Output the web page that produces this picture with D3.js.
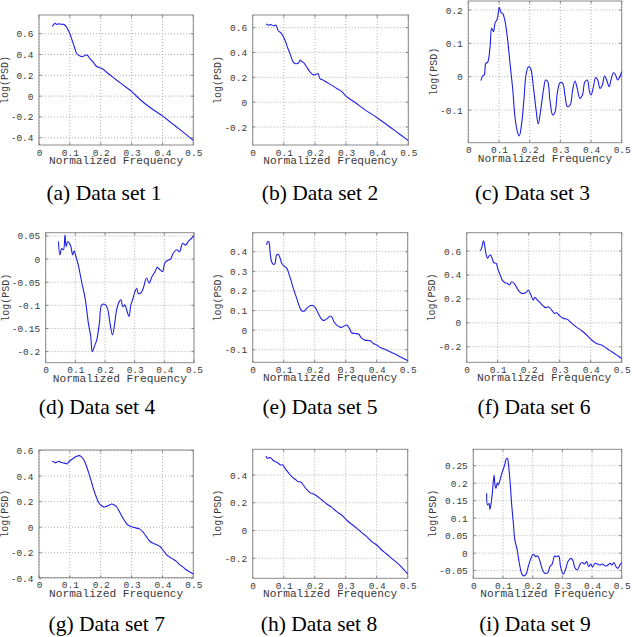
<!DOCTYPE html>
<html><head><meta charset="utf-8">
<script src="https://cdn.jsdelivr.net/npm/d3@7"></script>
<style>body{margin:0;background:#fff}</style>
</head><body>
<svg id="c" width="632" height="637"></svg>
<script>
const captions = ["(a) Data set 1","(b) Data set 2","(c) Data set 3","(d) Data set 4","(e) Data set 5","(f) Data set 6","(g) Data set 7","(h) Data set 8","(i) Data set 9"];
const xLabel = "Normalized Frequency";
const yLabel = "log(PSD)";
const xTicks = [0,0.1,0.2,0.3,0.4,0.5];

const freq1 = [0.043,0.048,0.052,0.058,0.065,0.072,0.08,0.088,0.095,0.1,0.108,0.115,0.122,0.13,0.138,0.145,0.152,0.158,0.165,0.175,0.185,0.195,0.205,0.215,0.225,0.24,0.26,0.28,0.3,0.33,0.36,0.4,0.43,0.46,0.5];
const psd1 = [0.67,0.69,0.70,0.69,0.695,0.69,0.69,0.67,0.63,0.60,0.53,0.47,0.41,0.39,0.38,0.385,0.395,0.39,0.36,0.33,0.29,0.275,0.265,0.24,0.215,0.18,0.135,0.09,0.045,-0.04,-0.11,-0.19,-0.26,-0.33,-0.425];
const yLim1 = [-0.47,0.78];
const yTicks1 = [-0.4,-0.2,0,0.2,0.4,0.6];

const freq2 = [0.043,0.05,0.058,0.066,0.075,0.082,0.09,0.098,0.105,0.112,0.12,0.13,0.138,0.147,0.152,0.158,0.163,0.173,0.184,0.195,0.205,0.21,0.216,0.228,0.238,0.255,0.27,0.286,0.302,0.33,0.36,0.4,0.43,0.46,0.5];
const psd2 = [0.63,0.62,0.625,0.615,0.62,0.575,0.56,0.53,0.49,0.44,0.39,0.325,0.31,0.315,0.34,0.325,0.32,0.285,0.245,0.22,0.225,0.23,0.19,0.175,0.16,0.135,0.11,0.085,0.045,-0.005,-0.06,-0.125,-0.18,-0.235,-0.31];
const yLim2 = [-0.345,0.702];
const yTicks2 = [-0.2,0,0.2,0.4,0.6];

const freq3 = [0.041,0.047,0.052,0.057,0.063,0.071,0.076,0.082,0.087,0.095,0.101,0.107,0.112,0.12,0.127,0.136,0.145,0.152,0.16,0.166,0.174,0.182,0.188,0.196,0.203,0.212,0.221,0.228,0.236,0.245,0.252,0.259,0.266,0.275,0.283,0.29,0.299,0.308,0.315,0.323,0.332,0.34,0.348,0.355,0.364,0.372,0.38,0.388,0.395,0.4,0.408,0.415,0.422,0.429,0.437,0.444,0.451,0.459,0.465,0.473,0.48,0.487,0.495,0.5];
const psd3 = [-0.012,0.002,0.005,0.04,0.043,0.09,0.145,0.135,0.16,0.175,0.208,0.192,0.19,0.165,0.12,0.04,-0.04,-0.12,-0.165,-0.178,-0.14,-0.06,0.005,0.03,0.025,-0.03,-0.1,-0.142,-0.1,-0.04,-0.01,-0.015,-0.07,-0.115,-0.105,-0.05,-0.018,-0.02,-0.055,-0.09,-0.085,-0.04,-0.013,-0.035,-0.065,-0.055,-0.015,-0.01,-0.045,-0.055,-0.03,-0.003,-0.01,-0.035,-0.025,0.002,-0.01,-0.03,-0.01,0.012,0.005,-0.01,0.002,0.015];
const yLim3 = [-0.198,0.227];
const yTicks3 = [-0.1,0,0.1,0.2];

const freq4 = [0.043,0.048,0.054,0.06,0.065,0.069,0.074,0.08,0.085,0.091,0.096,0.102,0.11,0.121,0.133,0.144,0.152,0.157,0.164,0.172,0.181,0.189,0.2,0.208,0.217,0.225,0.232,0.239,0.248,0.254,0.26,0.267,0.273,0.281,0.287,0.293,0.301,0.307,0.312,0.32,0.329,0.34,0.349,0.358,0.369,0.376,0.385,0.394,0.402,0.414,0.421,0.43,0.442,0.451,0.462,0.471,0.481,0.492,0.5];
const psd4 = [0.038,0.009,0.023,0.02,0.052,0.027,0.038,0.034,0.027,0.009,0.018,0.005,-0.013,-0.049,-0.085,-0.139,-0.168,-0.2,-0.189,-0.175,-0.139,-0.099,-0.098,-0.106,-0.139,-0.164,-0.142,-0.11,-0.092,-0.088,-0.103,-0.099,-0.11,-0.124,-0.099,-0.088,-0.07,-0.063,-0.074,-0.074,-0.063,-0.041,-0.052,-0.038,-0.027,-0.018,-0.023,-0.027,-0.008,-0.002,0.0,0.0125,0.02,0.016,0.034,0.03,0.038,0.045,0.05];
const yLim4 = [-0.224,0.057];
const yTicks4 = [-0.2,-0.15,-0.1,-0.05,0,0.05];

const freq5 = [0.045,0.048,0.052,0.056,0.061,0.067,0.072,0.077,0.083,0.088,0.094,0.101,0.11,0.12,0.131,0.142,0.151,0.158,0.166,0.174,0.185,0.194,0.201,0.209,0.217,0.226,0.233,0.241,0.25,0.256,0.262,0.271,0.28,0.287,0.295,0.303,0.312,0.319,0.33,0.341,0.352,0.362,0.379,0.389,0.4,0.411,0.427,0.443,0.459,0.475,0.491,0.5];
const psd5 = [0.434,0.451,0.451,0.4,0.349,0.335,0.34,0.383,0.386,0.369,0.34,0.327,0.315,0.272,0.213,0.162,0.119,0.099,0.097,0.111,0.124,0.126,0.116,0.094,0.068,0.051,0.051,0.06,0.072,0.065,0.043,0.026,0.017,0.014,0.021,0.026,0.009,-0.013,-0.017,-0.02,-0.042,-0.051,-0.054,-0.068,-0.076,-0.088,-0.098,-0.11,-0.122,-0.136,-0.149,-0.156];
const yLim5 = [-0.164,0.497];
const yTicks5 = [-0.1,0,0.1,0.2,0.3,0.4];

const freq6 = [0.043,0.048,0.054,0.057,0.061,0.067,0.072,0.077,0.083,0.088,0.095,0.1,0.108,0.116,0.124,0.131,0.138,0.145,0.153,0.161,0.17,0.177,0.185,0.194,0.199,0.207,0.215,0.22,0.228,0.237,0.247,0.256,0.263,0.274,0.283,0.29,0.301,0.312,0.323,0.339,0.355,0.371,0.387,0.403,0.419,0.435,0.452,0.468,0.484,0.5];
const psd6 = [0.6,0.622,0.686,0.664,0.594,0.539,0.558,0.567,0.53,0.502,0.497,0.455,0.4,0.352,0.335,0.33,0.316,0.343,0.33,0.296,0.26,0.246,0.246,0.26,0.274,0.232,0.19,0.213,0.19,0.168,0.14,0.126,0.134,0.107,0.079,0.084,0.056,0.037,0.031,-0.005,-0.038,-0.066,-0.102,-0.144,-0.172,-0.186,-0.214,-0.242,-0.27,-0.298];
const yLim6 = [-0.33,0.753];
const yTicks6 = [-0.2,0,0.2,0.4,0.6];

const freq7 = [0.043,0.05,0.054,0.059,0.065,0.07,0.079,0.088,0.092,0.098,0.106,0.113,0.122,0.131,0.138,0.146,0.154,0.163,0.171,0.179,0.187,0.194,0.203,0.211,0.219,0.228,0.235,0.243,0.252,0.26,0.269,0.279,0.287,0.297,0.306,0.316,0.327,0.338,0.349,0.36,0.37,0.381,0.392,0.403,0.414,0.424,0.435,0.446,0.457,0.468,0.478,0.489,0.5];
const psd7 = [0.516,0.508,0.503,0.511,0.516,0.508,0.503,0.498,0.495,0.516,0.53,0.542,0.555,0.56,0.55,0.524,0.477,0.41,0.346,0.28,0.228,0.189,0.168,0.158,0.163,0.173,0.181,0.176,0.158,0.124,0.084,0.045,0.019,0.006,0.0,-0.007,-0.015,-0.041,-0.078,-0.112,-0.125,-0.138,-0.151,-0.183,-0.217,-0.235,-0.251,-0.269,-0.295,-0.314,-0.335,-0.35,-0.366];
const yLim7 = [-0.395,0.604];
const yTicks7 = [-0.4,-0.2,0,0.2,0.4,0.6];

const freq8 = [0.043,0.047,0.054,0.061,0.067,0.074,0.083,0.09,0.097,0.104,0.115,0.126,0.137,0.147,0.155,0.163,0.174,0.185,0.196,0.207,0.223,0.239,0.255,0.271,0.287,0.303,0.319,0.336,0.352,0.368,0.384,0.4,0.416,0.432,0.448,0.465,0.481,0.5];
const psd8 = [0.537,0.52,0.525,0.518,0.503,0.496,0.484,0.472,0.472,0.448,0.417,0.388,0.369,0.352,0.35,0.328,0.297,0.273,0.263,0.249,0.22,0.191,0.167,0.136,0.112,0.076,0.045,0.016,-0.015,-0.044,-0.08,-0.104,-0.14,-0.169,-0.2,-0.231,-0.265,-0.313];
const yLim8 = [-0.344,0.585];
const yTicks8 = [-0.2,0,0.2,0.4];

const freq9 = [0.045,0.048,0.053,0.056,0.06,0.064,0.07,0.073,0.076,0.081,0.084,0.09,0.096,0.101,0.107,0.11,0.115,0.118,0.124,0.129,0.135,0.14,0.148,0.155,0.163,0.169,0.178,0.185,0.194,0.202,0.21,0.217,0.225,0.233,0.242,0.251,0.258,0.266,0.274,0.281,0.288,0.294,0.303,0.311,0.319,0.328,0.335,0.343,0.351,0.36,0.367,0.375,0.382,0.389,0.396,0.402,0.41,0.418,0.427,0.436,0.445,0.454,0.461,0.467,0.474,0.481,0.488,0.494,0.5];
const psd9 = [0.171,0.138,0.142,0.125,0.142,0.171,0.223,0.195,0.185,0.201,0.195,0.209,0.228,0.24,0.257,0.268,0.271,0.257,0.204,0.142,0.085,0.038,0.009,-0.029,-0.058,-0.065,-0.06,-0.039,-0.015,-0.003,-0.01,-0.008,-0.024,-0.048,-0.058,-0.056,-0.039,-0.031,-0.008,-0.01,-0.008,-0.039,-0.06,-0.046,-0.024,-0.015,-0.02,-0.043,-0.048,-0.031,-0.027,-0.031,-0.024,-0.039,-0.031,-0.04,-0.029,-0.031,-0.034,-0.031,-0.037,-0.034,-0.029,-0.034,-0.027,-0.039,-0.043,-0.034,-0.027];
const yLim9 = [-0.072,0.297];
const yTicks9 = [-0.05,0,0.05,0.1,0.15,0.2,0.25];

const series = [
  {freq:freq1, psd:psd1, ylim:yLim1, yticks:yTicks1},
  {freq:freq2, psd:psd2, ylim:yLim2, yticks:yTicks2},
  {freq:freq3, psd:psd3, ylim:yLim3, yticks:yTicks3},
  {freq:freq4, psd:psd4, ylim:yLim4, yticks:yTicks4},
  {freq:freq5, psd:psd5, ylim:yLim5, yticks:yTicks5},
  {freq:freq6, psd:psd6, ylim:yLim6, yticks:yTicks6},
  {freq:freq7, psd:psd7, ylim:yLim7, yticks:yTicks7},
  {freq:freq8, psd:psd8, ylim:yLim8, yticks:yTicks8},
  {freq:freq9, psd:psd9, ylim:yLim9, yticks:yTicks9}
];

// layout: plot box and caption position for each panel
const layout = [
  {L:39,   R:193.3, T:15,    B:145,   cx:104,   cy:199.5},
  {L:252.7,R:408.3, T:15,    B:145,   cx:320,   cy:199.5},
  {L:468.3,R:621.7, T:1,     B:142.7, cx:532.5, cy:199.5},
  {L:45.7, R:194,   T:232.7, B:362.7, cx:97,    cy:413.5},
  {L:252.7,R:407.7, T:232.7, B:362.3, cx:320,   cy:413.5},
  {L:466.7,R:621.7, T:232.7, B:362.3, cx:534,   cy:413.5},
  {L:39,   R:193.3, T:450,   B:577.7, cx:106.7, cy:631},
  {L:252.7,R:407.7, T:449.3, B:578.3, cx:319,   cy:631},
  {L:473.3,R:621.7, T:449.3, B:578.3, cx:535,   cy:631}
];

const svg = d3.select("#c");
svg.append("rect").attr("width",632).attr("height",637).attr("fill","#fff");
const fmt = d => d === 0 ? "0" : String(+d.toFixed(3));
const mono = "'Liberation Mono', 'Courier New', monospace";
const textCol = "#3a3a3a";
const tickLen = 2.5;

series.forEach((s, i) => {
  const p = layout[i];
  const g = svg.append("g");
  const x = d3.scaleLinear().domain([0, 0.5]).range([p.L, p.R]);
  const y = d3.scaleLinear().domain(s.ylim).range([p.B, p.T]);

  // grid
  g.append("g").selectAll("line").data(xTicks).join("line")
    .attr("x1", d => x(d)).attr("x2", d => x(d)).attr("y1", p.T).attr("y2", p.B)
    .attr("stroke", "#9a9a9a").attr("stroke-width", 0.8).attr("stroke-dasharray", "1,2");
  g.append("g").selectAll("line").data(s.yticks).join("line")
    .attr("x1", p.L).attr("x2", p.R).attr("y1", d => y(d)).attr("y2", d => y(d))
    .attr("stroke", "#9a9a9a").attr("stroke-width", 0.8).attr("stroke-dasharray", "1,2");

  // inward tick marks on all four sides
  const tk = g.append("g").attr("stroke", "#666").attr("stroke-width", 0.8);
  xTicks.forEach(d => {
    tk.append("line").attr("x1", x(d)).attr("x2", x(d)).attr("y1", p.B).attr("y2", p.B - tickLen);
    tk.append("line").attr("x1", x(d)).attr("x2", x(d)).attr("y1", p.T).attr("y2", p.T + tickLen);
  });
  s.yticks.forEach(d => {
    tk.append("line").attr("x1", p.L).attr("x2", p.L + tickLen).attr("y1", y(d)).attr("y2", y(d));
    tk.append("line").attr("x1", p.R).attr("x2", p.R - tickLen).attr("y1", y(d)).attr("y2", y(d));
  });

  // box
  g.append("rect").attr("x", p.L).attr("y", p.T).attr("width", p.R - p.L).attr("height", p.B - p.T)
    .attr("fill", "none").attr("stroke", "#8a8a8a").attr("stroke-width", 1);

  // axes
  const xa = g.append("g").attr("transform", `translate(0,${p.B})`)
    .call(d3.axisBottom(x).tickValues(xTicks).tickFormat(fmt).tickSize(0).tickPadding(3.8));
  const ya = g.append("g").attr("transform", `translate(${p.L},0)`)
    .call(d3.axisLeft(y).tickValues(s.yticks).tickFormat(fmt).tickSize(0).tickPadding(5.5));
  [xa, ya].forEach(a => {
    a.select(".domain").remove();
    a.selectAll("text").attr("font-family", mono).attr("font-size", 9.5).attr("fill", textCol);
  });

  // line
  const line = d3.line().x(d => x(d[0])).y(d => y(d[1])).curve(d3.curveCatmullRom.alpha(0.5));
  g.append("path").datum(s.freq.map((f, k) => [f, s.psd[k]]))
    .attr("d", line).attr("fill", "none").attr("stroke", "#1f1fe8").attr("stroke-width", 1.1);

  // x label
  g.append("text").attr("x", (p.L + p.R) / 2).attr("y", p.B + 19).attr("text-anchor", "middle")
    .attr("font-family", mono).attr("font-size", 11.2).attr("fill", textCol).text(xLabel);

  // y label, placed left of tick labels
  let minLeft = p.L;
  ya.selectAll("text").each(function(){ const b = this.getBBox(); const ctm = this.getCTM(); minLeft = Math.min(minLeft, b.x + ctm.e); });
  const yc = (p.T + p.B) / 2, xl = minLeft - 3;
  g.append("text").attr("transform", `translate(${xl},${yc}) rotate(-90)`).attr("text-anchor", "middle")
    .attr("font-family", mono).attr("font-size", 10).attr("fill", textCol).text(yLabel);

  // caption
  g.append("text").attr("x", p.cx).attr("y", p.cy).attr("text-anchor", "middle")
    .attr("font-family", "'Liberation Serif', 'Times New Roman', serif").attr("font-size", 21.5).attr("fill", "#000").text(captions[i]);
});
</script>
</body></html>
